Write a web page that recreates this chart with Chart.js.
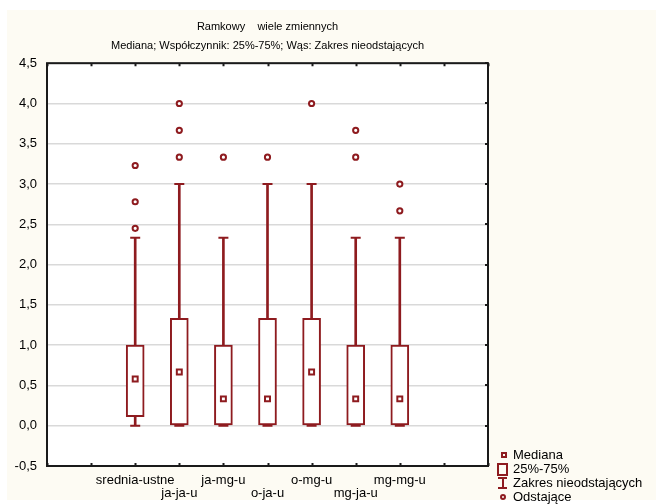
<!DOCTYPE html>
<html>
<head>
<meta charset="utf-8">
<script src="https://cdn.jsdelivr.net/npm/chart.js@4.4.0/dist/chart.umd.min.js"></script>
<style>
    body { margin: 0; background: #ffffff; }
    #panel { position: absolute; left: 7px; top: 10px; width: 649px; height: 490px; background: #fdfbf3; }
    #wrap { position: absolute; left: 0; top: 0; width: 535px; height: 504px; }
    #legend { position: absolute; left: 497px; top: 448px; font-family: "Liberation Sans", Arial, sans-serif; font-size: 13px; color: #000; }
    #legend div { position: relative; height: 14px; line-height: 14px; padding-left: 16px; white-space: nowrap; }
    #legend i { position: absolute; box-sizing: border-box; border: 2px solid #8e1b1f; }
</style>
</head>
<body>
<div id="panel"></div>
<div id="wrap"><canvas id="box-chart" width="535" height="504"></canvas></div>
<div id="legend">
    <div><i style="left:4px;top:4px;width:6px;height:6px;"></i>Mediana</div>
    <div><i style="left:0px;top:1px;width:11px;height:13px;"></i>25%-75%</div>
    <div><i style="left:1px;top:1px;width:9px;height:2px;border-width:1px;background:#8e1b1f;"></i><i style="left:4.5px;top:2px;width:2px;height:10px;border-width:1px;background:#8e1b1f;"></i><i style="left:1px;top:11px;width:9px;height:2px;border-width:1px;background:#8e1b1f;"></i>Zakres nieodstających</div>
    <div><i style="left:3px;top:4px;width:6px;height:6px;border-radius:50%;"></i>Odstające</div>
</div>
<script>
var categories = ["srednia-ustne", "ja-ja-u", "ja-mg-u", "o-ja-u", "o-mg-u", "mg-ja-u", "mg-mg-u"];
var positions = [2, 3, 4, 5, 6, 7, 8];
var medians = [0.58, 0.667, 0.333, 0.333, 0.667, 0.333, 0.333];
var q1 = [0.111, 0, 0, 0, 0, 0, 0];
var q3 = [1.0, 1.333, 1.0, 1.333, 1.333, 1.0, 1.0];
var whiskerLow = [0, 0, 0, 0, 0, 0, 0];
var whiskerHigh = [2.333, 3.0, 2.333, 3.0, 3.0, 2.333, 2.333];
var outliers = [
    [2.45, 2.78, 3.23],
    [3.333, 3.667, 4.0],
    [3.333],
    [3.333],
    [4.0],
    [3.333, 3.667],
    [2.667, 3.0]
];
var yTicks = ["-0,5", "0,0", "0,5", "1,0", "1,5", "2,0", "2,5", "3,0", "3,5", "4,0", "4,5"];

var red = "#8e1b1f";

var stems = positions.map((x, i) => ({ x: x, y: [whiskerLow[i], whiskerHigh[i]] }));
var boxes = positions.map((x, i) => ({ x: x, y: [q1[i], q3[i]] }));
var caps = [];
positions.forEach((x, i) => {
    caps.push({ x: x, y: whiskerLow[i] });
    caps.push({ x: x, y: whiskerHigh[i] });
});
var medianPoints = positions.map((x, i) => ({ x: x, y: medians[i] }));
var outlierPoints = [];
positions.forEach((x, i) => {
    outliers[i].forEach(v => outlierPoints.push({ x: x, y: v }));
});

// white plot area, frame and inward tick marks like the original
var framePlugin = {
    id: "frame",
    beforeDraw: function (chart) {
        var a = chart.chartArea, ctx = chart.ctx;
        ctx.save();
        ctx.fillStyle = "#ffffff";
        ctx.fillRect(a.left, a.top, a.right - a.left, a.bottom - a.top);
        ctx.restore();
    },
    afterDraw: function (chart) {
        var a = chart.chartArea, ctx = chart.ctx;
        var xs = chart.scales.x, ys = chart.scales.y;
        ctx.save();
        ctx.strokeStyle = "#1a1a1a";
        ctx.lineWidth = 2;
        ctx.strokeRect(a.left, a.top, a.right - a.left, a.bottom - a.top);
        ctx.lineWidth = 2;
        ctx.beginPath();
        xs.ticks.forEach(t => {
            var px = Math.round(xs.getPixelForValue(t.value)) + 0.5;
            ctx.moveTo(px, a.bottom); ctx.lineTo(px, a.bottom - 3);
            ctx.moveTo(px, a.top); ctx.lineTo(px, a.top + 3);
        });
        ys.ticks.forEach(t => {
            var py = Math.round(ys.getPixelForValue(t.value));
            ctx.moveTo(a.right, py); ctx.lineTo(a.right - 3, py);
        });
        ctx.stroke();
        ctx.restore();
    }
};

var ctx = document.getElementById("box-chart").getContext("2d");
var myChart = new Chart(ctx, {
    type: "bar",
    data: {
        datasets: [{
            label: "Zakres nieodstających",
            data: stems,
            grouped: false,
            barThickness: 2,
            backgroundColor: red,
            borderWidth: 0,
            order: 5
        }, {
            type: "scatter",
            label: "caps",
            data: caps,
            pointStyle: "line",
            radius: 5,
            borderWidth: 2,
            borderColor: red,
            order: 4
        }, {
            label: "25%-75%",
            data: boxes,
            grouped: false,
            barThickness: 18,
            backgroundColor: "#ffffff",
            borderColor: red,
            borderWidth: 2,
            borderSkipped: false,
            order: 3
        }, {
            type: "scatter",
            label: "Mediana",
            data: medianPoints,
            pointStyle: "rect",
            radius: 3.5,
            borderWidth: 2,
            borderColor: red,
            backgroundColor: "#ffffff",
            order: 2
        }, {
            type: "scatter",
            label: "Odstające",
            data: outlierPoints,
            pointStyle: "circle",
            radius: 2.6,
            borderWidth: 2,
            borderColor: red,
            backgroundColor: "#ffffff",
            order: 1
        }]
    },
    options: {
        responsive: false,
        animation: false,
        layout: { padding: { top: 20, left: 0, right: 0, bottom: 0 } },
        plugins: {
            legend: { display: false },
            tooltip: { enabled: false },
            title: {
                display: true,
                text: "Ramkowy    wiele zmiennych",
                color: "#000",
                font: { family: "Liberation Sans", size: 11, weight: "normal", lineHeight: 1.2 },
                padding: { top: 0, bottom: 5.8 }
            },
            subtitle: {
                display: true,
                text: "Mediana; Współczynnik: 25%-75%; Wąs: Zakres nieodstających",
                color: "#000",
                font: { family: "Liberation Sans", size: 11, lineHeight: 1.2 },
                padding: { top: 0, bottom: 11 }
            }
        },
        scales: {
            x: {
                type: "linear",
                min: 0,
                max: 10,
                offset: false,
                grid: { display: false, drawTicks: false },
                border: { display: false },
                afterFit: s => { s.height = 38; },
                ticks: {
                    stepSize: 1,
                    autoSkip: false,
                    maxRotation: 0,
                    padding: 8,
                    color: "#000",
                    font: { family: "Liberation Sans", size: 13, lineHeight: 1.0 },
                    callback: function (value) {
                        var i = positions.indexOf(value);
                        if (i < 0) return "";
                        return i % 2 == 0 ? categories[i] : ["", categories[i]];
                    }
                }
            },
            y: {
                min: -0.5,
                max: 4.5,
                grid: { color: "#d9d9d9", lineWidth: 1.5, drawTicks: false },
                border: { display: false },
                afterFit: s => { s.width = 47; },
                ticks: {
                    stepSize: 0.5,
                    padding: 10,
                    color: "#000",
                    font: { family: "Liberation Sans", size: 13 },
                    callback: function (value, index) { return yTicks[index]; }
                }
            },
            y2: {
                position: "right",
                min: 0,
                max: 1,
                grid: { drawOnChartArea: false, drawTicks: false },
                border: { display: false },
                ticks: { display: false },
                afterFit: s => { s.width = 47; }
            }
        }
    },
    plugins: [framePlugin]
});
</script>
</body>
</html>
